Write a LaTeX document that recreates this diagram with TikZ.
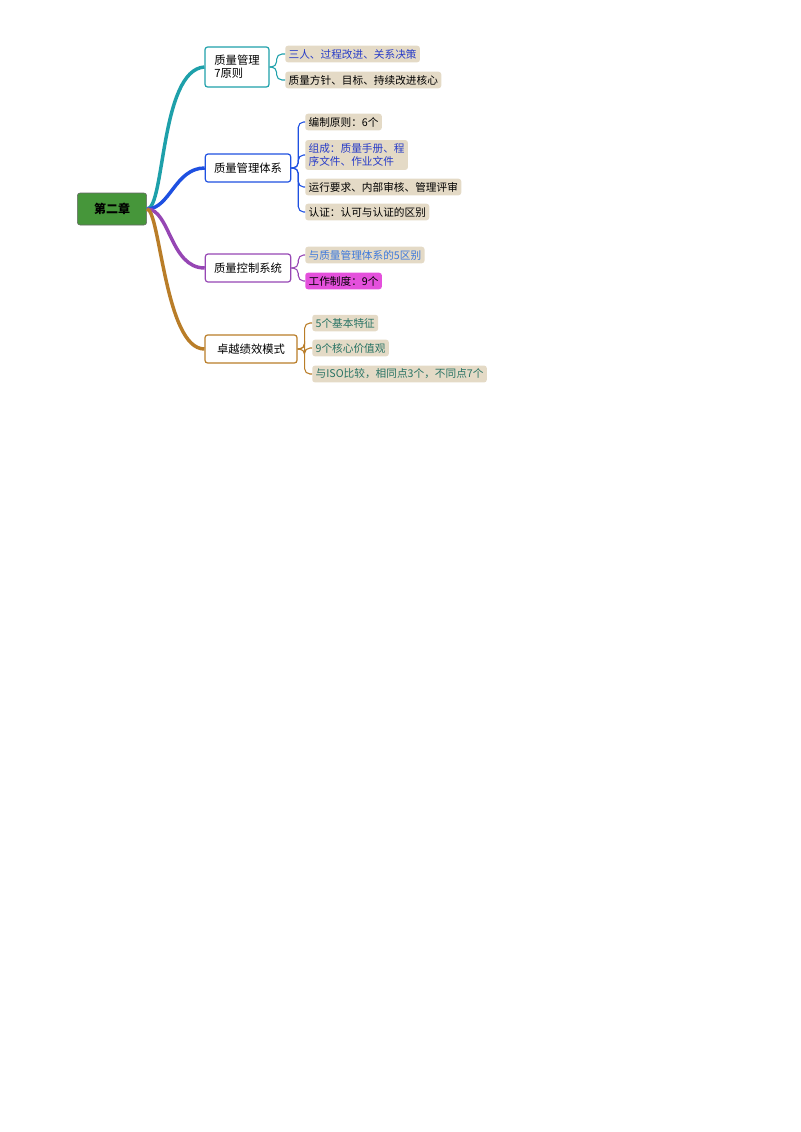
\documentclass[tikz,border=0pt]{standalone}
\usepackage{fontspec}
\setmainfont{Noto Sans CJK SC}
\definecolor{rootgreen}{RGB}{70,150,58}
\definecolor{cteal}{RGB}{30,160,170}
\definecolor{cblue}{RGB}{30,80,225}
\definecolor{cpurple}{RGB}{150,70,180}
\definecolor{cbrown}{RGB}{185,125,40}
\definecolor{leaftan}{RGB}{228,218,198}
\definecolor{leafpink}{RGB}{228,80,220}
\definecolor{txblue}{RGB}{40,60,200}
\definecolor{txlight}{RGB}{60,120,220}
\definecolor{txgreen}{RGB}{40,115,100}
\tikzset{
  topic/.style={draw, rounded corners=2pt, fill=white, line width=0.9pt, inner sep=4pt, font=\fontsize{8.5}{10}\selectfont, align=left},
  leaf/.style={fill=leaftan, rounded corners=2pt, inner sep=2.5pt, anchor=west, font=\fontsize{8}{10}\selectfont, align=left},
  trunk/.style={line width=2.6pt},
  twig/.style={line width=0.8pt, rounded corners=4pt}
}
\begin{document}
\begin{tikzpicture}[x=0.75pt,y=-0.75pt]
\useasboundingbox (0,0) rectangle (800,1132);
\node [draw=black!60, fill=rootgreen, rounded corners=2pt, minimum width=52pt, minimum height=24pt, font=\fontsize{9}{10}\selectfont\bfseries] (root) at (112,209) {第二章};
\node [topic, draw=cteal, minimum width=48pt, minimum height=30pt] (b1) at (237,67) {质量管理\\7原则};
\node [topic, draw=cblue, minimum width=64pt, minimum height=21pt] (b2) at (248,168) {质量管理体系};
\node [topic, draw=cpurple, minimum width=64pt, minimum height=21pt] (b3) at (248,268) {质量控制系统};
\node [topic, draw=cbrown, minimum width=69pt, minimum height=21pt] (b4) at (251,349) {卓越绩效模式};
% leaves
\node [leaf, text=txblue] (l1a) at (285,54) {三人、过程改进、关系决策};
\node [leaf] (l1b) at (285,80) {质量方针、目标、持续改进核心};
\node [leaf] (l2a) at (305,122) {编制原则：6个};
\node [leaf, text=txblue] (l2b) at (305,155) {组成：质量手册、程\\序文件、作业文件};
\node [leaf] (l2c) at (305,187) {运行要求、内部审核、管理评审};
\node [leaf] (l2d) at (305,212) {认证：认可与认证的区别};
\node [leaf, text=txlight] (l3a) at (305,255) {与质量管理体系的5区别};
\node [leaf, fill=leafpink] (l3b) at (305,281) {工作制度：9个};
\node [leaf, text=txgreen] (l4a) at (312,323) {5个基本特征};
\node [leaf, text=txgreen] (l4b) at (312,348) {9个核心价值观};
\node [leaf, text=txgreen] (l4c) at (312,374) {与ISO比较，相同点3个，不同点7个};
% trunks
\draw [trunk, cteal] (root.east) .. controls (165,209) and (160,70) .. (b1.west);
\draw [trunk, cblue] (root.east) .. controls (170,209) and (175,168) .. (b2.west);
\draw [trunk, cpurple] (root.east) .. controls (170,209) and (170,268) .. (b3.west);
\draw [trunk, cbrown] (root.east) .. controls (160,209) and (165,349) .. (b4.west);
% twigs
\foreach \l in {l1a,l1b} \draw [twig, cteal] (b1.east) -- ++(7,0) |- (\l.west);
\foreach \l in {l2a,l2b,l2c,l2d} \draw [twig, cblue] (b2.east) -- ++(7,0) |- (\l.west);
\foreach \l in {l3a,l3b} \draw [twig, cpurple] (b3.east) -- ++(7,0) |- (\l.west);
\foreach \l in {l4a,l4b,l4c} \draw [twig, cbrown] (b4.east) -- ++(7,0) |- (\l.west);
\end{tikzpicture}
\end{document}
